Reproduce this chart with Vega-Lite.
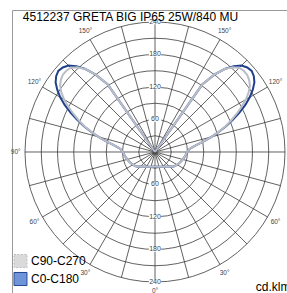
{
  "$schema": "https://vega.github.io/schema/vega-lite/v6.json",
  "width": 280,
  "height": 290,
  "autosize": "none",
  "padding": {"left": 12, "top": 10, "right": 0, "bottom": 0},
  "background": "white",
  "config": {"view": {"stroke": "#9a9a9a", "strokeWidth": 1}, "font": "Liberation Sans"},
  "datasets": {
    "curves": [
      {"c":"C0-C180","a":-180,"i":0},{"c":"C0-C180","a":-175,"i":0},{"c":"C0-C180","a":-170,"i":0},{"c":"C0-C180","a":-165,"i":0},{"c":"C0-C180","a":-160,"i":0},{"c":"C0-C180","a":-155,"i":0},{"c":"C0-C180","a":-150,"i":0},{"c":"C0-C180","a":-145,"i":152},{"c":"C0-C180","a":-142.5,"i":180},{"c":"C0-C180","a":-140,"i":200},{"c":"C0-C180","a":-137.5,"i":215},{"c":"C0-C180","a":-135,"i":226},{"c":"C0-C180","a":-132.5,"i":231},{"c":"C0-C180","a":-130,"i":233},{"c":"C0-C180","a":-127.5,"i":230},{"c":"C0-C180","a":-125,"i":224},{"c":"C0-C180","a":-122.5,"i":214},{"c":"C0-C180","a":-120,"i":202},{"c":"C0-C180","a":-117.5,"i":188},{"c":"C0-C180","a":-115,"i":172},{"c":"C0-C180","a":-112.5,"i":156},{"c":"C0-C180","a":-110,"i":140},{"c":"C0-C180","a":-107.5,"i":124},{"c":"C0-C180","a":-105,"i":108},{"c":"C0-C180","a":-102.5,"i":93},{"c":"C0-C180","a":-100,"i":80},{"c":"C0-C180","a":-97.5,"i":70},{"c":"C0-C180","a":-95,"i":64},{"c":"C0-C180","a":-90,"i":59},{"c":"C0-C180","a":-85,"i":57},{"c":"C0-C180","a":-80,"i":55},{"c":"C0-C180","a":-75,"i":53},{"c":"C0-C180","a":-70,"i":51},{"c":"C0-C180","a":-65,"i":49},{"c":"C0-C180","a":-60,"i":47},{"c":"C0-C180","a":-55,"i":45},{"c":"C0-C180","a":-50,"i":42},{"c":"C0-C180","a":-45,"i":38},{"c":"C0-C180","a":-40,"i":35},{"c":"C0-C180","a":-35,"i":33},{"c":"C0-C180","a":-30,"i":31},{"c":"C0-C180","a":-25,"i":30},{"c":"C0-C180","a":-20,"i":29},{"c":"C0-C180","a":-15,"i":28},{"c":"C0-C180","a":-10,"i":27.5},{"c":"C0-C180","a":-5,"i":27},
      {"c":"C0-C180","a":0,"i":27},
      {"c":"C0-C180","a":5,"i":27},{"c":"C0-C180","a":10,"i":27.5},{"c":"C0-C180","a":15,"i":28},{"c":"C0-C180","a":20,"i":29},{"c":"C0-C180","a":25,"i":30},{"c":"C0-C180","a":30,"i":31},{"c":"C0-C180","a":35,"i":33},{"c":"C0-C180","a":40,"i":35},{"c":"C0-C180","a":45,"i":38},{"c":"C0-C180","a":50,"i":42},{"c":"C0-C180","a":55,"i":45},{"c":"C0-C180","a":60,"i":47},{"c":"C0-C180","a":65,"i":49},{"c":"C0-C180","a":70,"i":51},{"c":"C0-C180","a":75,"i":53},{"c":"C0-C180","a":80,"i":55},{"c":"C0-C180","a":85,"i":57},{"c":"C0-C180","a":90,"i":59},{"c":"C0-C180","a":95,"i":64},{"c":"C0-C180","a":97.5,"i":70},{"c":"C0-C180","a":100,"i":80},{"c":"C0-C180","a":102.5,"i":93},{"c":"C0-C180","a":105,"i":108},{"c":"C0-C180","a":107.5,"i":124},{"c":"C0-C180","a":110,"i":140},{"c":"C0-C180","a":112.5,"i":156},{"c":"C0-C180","a":115,"i":172},{"c":"C0-C180","a":117.5,"i":188},{"c":"C0-C180","a":120,"i":202},{"c":"C0-C180","a":122.5,"i":214},{"c":"C0-C180","a":125,"i":224},{"c":"C0-C180","a":127.5,"i":230},{"c":"C0-C180","a":130,"i":233},{"c":"C0-C180","a":132.5,"i":231},{"c":"C0-C180","a":135,"i":226},{"c":"C0-C180","a":137.5,"i":215},{"c":"C0-C180","a":140,"i":200},{"c":"C0-C180","a":142.5,"i":180},{"c":"C0-C180","a":145,"i":152},{"c":"C0-C180","a":150,"i":0},{"c":"C0-C180","a":155,"i":0},{"c":"C0-C180","a":160,"i":0},{"c":"C0-C180","a":165,"i":0},{"c":"C0-C180","a":170,"i":0},{"c":"C0-C180","a":175,"i":0},{"c":"C0-C180","a":180,"i":0},
      {"c":"C90-C270","a":-180,"i":0},{"c":"C90-C270","a":-175,"i":0},{"c":"C90-C270","a":-170,"i":0},{"c":"C90-C270","a":-165,"i":0},{"c":"C90-C270","a":-160,"i":0},{"c":"C90-C270","a":-155,"i":0},{"c":"C90-C270","a":-150,"i":0},{"c":"C90-C270","a":-145,"i":152},{"c":"C90-C270","a":-142.5,"i":180},{"c":"C90-C270","a":-140,"i":200},{"c":"C90-C270","a":-137.5,"i":212},{"c":"C90-C270","a":-135,"i":220},{"c":"C90-C270","a":-132.5,"i":222},{"c":"C90-C270","a":-130,"i":222},{"c":"C90-C270","a":-127.5,"i":219},{"c":"C90-C270","a":-125,"i":214},{"c":"C90-C270","a":-122.5,"i":205},{"c":"C90-C270","a":-120,"i":194},{"c":"C90-C270","a":-117.5,"i":180},{"c":"C90-C270","a":-115,"i":166},{"c":"C90-C270","a":-112.5,"i":152},{"c":"C90-C270","a":-110,"i":138},{"c":"C90-C270","a":-107.5,"i":123},{"c":"C90-C270","a":-105,"i":108},{"c":"C90-C270","a":-102.5,"i":93},{"c":"C90-C270","a":-100,"i":80},{"c":"C90-C270","a":-97.5,"i":70},{"c":"C90-C270","a":-95,"i":64},{"c":"C90-C270","a":-90,"i":59},{"c":"C90-C270","a":-85,"i":57},{"c":"C90-C270","a":-80,"i":55},{"c":"C90-C270","a":-75,"i":53},{"c":"C90-C270","a":-70,"i":51},{"c":"C90-C270","a":-65,"i":49},{"c":"C90-C270","a":-60,"i":47},{"c":"C90-C270","a":-55,"i":45},{"c":"C90-C270","a":-50,"i":42},{"c":"C90-C270","a":-45,"i":38},{"c":"C90-C270","a":-40,"i":35},{"c":"C90-C270","a":-35,"i":33},{"c":"C90-C270","a":-30,"i":31},{"c":"C90-C270","a":-25,"i":30},{"c":"C90-C270","a":-20,"i":29},{"c":"C90-C270","a":-15,"i":28},{"c":"C90-C270","a":-10,"i":27.5},{"c":"C90-C270","a":-5,"i":27},
      {"c":"C90-C270","a":0,"i":27},
      {"c":"C90-C270","a":5,"i":27},{"c":"C90-C270","a":10,"i":27.5},{"c":"C90-C270","a":15,"i":28},{"c":"C90-C270","a":20,"i":29},{"c":"C90-C270","a":25,"i":30},{"c":"C90-C270","a":30,"i":31},{"c":"C90-C270","a":35,"i":33},{"c":"C90-C270","a":40,"i":35},{"c":"C90-C270","a":45,"i":38},{"c":"C90-C270","a":50,"i":42},{"c":"C90-C270","a":55,"i":45},{"c":"C90-C270","a":60,"i":47},{"c":"C90-C270","a":65,"i":49},{"c":"C90-C270","a":70,"i":51},{"c":"C90-C270","a":75,"i":53},{"c":"C90-C270","a":80,"i":55},{"c":"C90-C270","a":85,"i":57},{"c":"C90-C270","a":90,"i":59},{"c":"C90-C270","a":95,"i":64},{"c":"C90-C270","a":97.5,"i":70},{"c":"C90-C270","a":100,"i":80},{"c":"C90-C270","a":102.5,"i":93},{"c":"C90-C270","a":105,"i":108},{"c":"C90-C270","a":107.5,"i":123},{"c":"C90-C270","a":110,"i":138},{"c":"C90-C270","a":112.5,"i":152},{"c":"C90-C270","a":115,"i":166},{"c":"C90-C270","a":117.5,"i":180},{"c":"C90-C270","a":120,"i":194},{"c":"C90-C270","a":122.5,"i":205},{"c":"C90-C270","a":125,"i":214},{"c":"C90-C270","a":127.5,"i":219},{"c":"C90-C270","a":130,"i":222},{"c":"C90-C270","a":132.5,"i":222},{"c":"C90-C270","a":135,"i":220},{"c":"C90-C270","a":137.5,"i":212},{"c":"C90-C270","a":140,"i":200},{"c":"C90-C270","a":142.5,"i":180},{"c":"C90-C270","a":145,"i":152},{"c":"C90-C270","a":150,"i":0},{"c":"C90-C270","a":155,"i":0},{"c":"C90-C270","a":160,"i":0},{"c":"C90-C270","a":165,"i":0},{"c":"C90-C270","a":170,"i":0},{"c":"C90-C270","a":175,"i":0},{"c":"C90-C270","a":180,"i":0}
    ],
    "rings": [{"r":30},{"r":60},{"r":90},{"r":120},{"r":150},{"r":180},{"r":210},{"r":240}],
    "spokes": [{"a":0},{"a":15},{"a":30},{"a":45},{"a":60},{"a":75},{"a":90},{"a":105},{"a":120},{"a":135},{"a":150},{"a":165},{"a":180},{"a":195},{"a":210},{"a":225},{"a":240},{"a":255},{"a":270},{"a":285},{"a":300},{"a":315},{"a":330},{"a":345}],
    "angles": [{"a":-150,"t":"150°"},{"a":-120,"t":"120°"},{"a":-90,"t":"90°"},{"a":-60,"t":"60°"},{"a":-30,"t":"30°"},{"a":0,"t":"0°"},{"a":30,"t":"30°"},{"a":60,"t":"60°"},{"a":120,"t":"120°"},{"a":150,"t":"150°"}],
    "rlabels": [{"v":60,"t":"60"},{"v":120,"t":"120"},{"v":180,"t":"180"},{"v":240,"t":"240"},{"v":-60,"t":"60"},{"v":-120,"t":"120"},{"v":-180,"t":"180"},{"v":-240,"t":"240"}],
    "heading": [{"t":"4512237 GRETA BIG IP65 25W/840 MU"}],
    "note": [{"t":"cd.klm"}]
  },
  "layer": [
    {
      "data": {"name": "rings"},
      "mark": {"type": "arc", "theta": 0, "theta2": 6.2832, "fill": "white", "fillOpacity": 0, "stroke": "#3a3a3a", "strokeWidth": 0.8},
      "encoding": {
        "x": {"datum": 0, "type": "quantitative", "scale": {"domain": [-264, 252.92], "nice": false, "zero": false}, "axis": null},
        "y": {"datum": 0, "type": "quantitative", "scale": {"domain": [-273.23, 262.15], "nice": false, "zero": false}, "axis": null},
        "radius": {"field": "r", "type": "quantitative", "stack": null, "scale": {"type": "linear", "domain": [0, 240], "range": [0, 130], "zero": true}}
      }
    },
    {
      "data": {"name": "spokes"},
      "transform": [
        {"calculate": "240*sin(datum.a*PI/180)", "as": "ex"},
        {"calculate": "-240*cos(datum.a*PI/180)", "as": "ey"}
      ],
      "mark": {"type": "rule", "stroke": "#3a3a3a", "strokeWidth": 0.8},
      "encoding": {
        "x": {"field": "ex", "type": "quantitative"},
        "y": {"field": "ey", "type": "quantitative"},
        "x2": {"datum": 0},
        "y2": {"datum": 0}
      }
    },
    {
      "data": {"name": "curves"},
      "transform": [
        {"filter": "datum.c === 'C0-C180'"},
        {"calculate": "datum.i*sin(datum.a*PI/180)", "as": "px"},
        {"calculate": "-datum.i*cos(datum.a*PI/180)", "as": "py"}
      ],
      "mark": {"type": "line", "strokeWidth": 2},
      "encoding": {
        "x": {"field": "px", "type": "quantitative"},
        "y": {"field": "py", "type": "quantitative"},
        "order": {"field": "a", "type": "quantitative"},
        "color": {
          "field": "c", "type": "nominal",
          "scale": {"domain": ["C90-C270", "C0-C180"], "range": ["#b9bdc7", "#1f3f8c"]},
          "legend": {
            "orient": "none", "legendX": 1, "legendY": 243.5, "title": null, "padding": 0,
            "symbolType": "square", "symbolSize": 170, "symbolStrokeWidth": 1,
            "labelFontSize": 12, "labelFont": "Liberation Sans", "labelColor": "#000000", "labelOffset": 3, "rowPadding": -1,
            "encode": {"symbols": {"update": {
              "fill": {"signal": "datum.value === 'C0-C180' ? '#6f95d8' : '#dadada'"},
              "stroke": {"signal": "datum.value === 'C0-C180' ? '#2a4a9a' : '#a8a8a8'"},
              "strokeDash": {"signal": "datum.value === 'C0-C180' ? [1,0] : [2,1.5]"},
              "opacity": {"value": 1}, "fillOpacity": {"value": 1}
            }}}
          }
        }
      }
    },
    {
      "data": {"name": "curves"},
      "transform": [
        {"filter": "datum.c === 'C90-C270'"},
        {"calculate": "datum.i*sin(datum.a*PI/180)", "as": "px"},
        {"calculate": "-datum.i*cos(datum.a*PI/180)", "as": "py"}
      ],
      "mark": {"type": "line", "strokeWidth": 2},
      "encoding": {
        "x": {"field": "px", "type": "quantitative"},
        "y": {"field": "py", "type": "quantitative"},
        "order": {"field": "a", "type": "quantitative"},
        "color": {"field": "c", "type": "nominal"}
      }
    },
    {
      "data": {"name": "rlabels"},
      "mark": {"type": "point", "shape": "M-1,-0.38H1V0.38H-1Z", "filled": true, "fill": "white", "opacity": 1, "strokeWidth": 0, "size": 150},
      "encoding": {
        "x": {"datum": 0, "type": "quantitative"},
        "y": {"field": "v", "type": "quantitative"}
      }
    },
    {
      "data": {"name": "rlabels"},
      "mark": {"type": "text", "fontSize": 7, "color": "#444444", "align": "center", "baseline": "middle"},
      "encoding": {
        "x": {"datum": 0, "type": "quantitative"},
        "y": {"field": "v", "type": "quantitative"},
        "text": {"field": "t"}
      }
    },
    {
      "data": {"name": "angles"},
      "transform": [
        {"calculate": "257*sin(datum.a*PI/180)", "as": "lx"},
        {"calculate": "-257*cos(datum.a*PI/180)", "as": "ly"}
      ],
      "mark": {"type": "text", "fontSize": 6.5, "color": "#444444", "align": "center", "baseline": "middle"},
      "encoding": {
        "x": {"field": "lx", "type": "quantitative"},
        "y": {"field": "ly", "type": "quantitative"},
        "text": {"field": "t"}
      }
    },
    {
      "data": {"name": "heading"},
      "mark": {"type": "text", "fontSize": 12, "font": "Liberation Sans", "color": "#000000", "align": "left", "baseline": "alphabetic"},
      "encoding": {
        "x": {"datum": -244, "type": "quantitative"},
        "y": {"datum": 242.5, "type": "quantitative"},
        "text": {"field": "t"}
      }
    },
    {
      "data": {"name": "note"},
      "mark": {"type": "text", "fontSize": 12, "font": "Liberation Sans", "color": "#000000", "align": "left", "baseline": "alphabetic"},
      "encoding": {
        "x": {"datum": 186, "type": "quantitative"},
        "y": {"datum": -257, "type": "quantitative"},
        "text": {"field": "t"}
      }
    }
  ]
}
